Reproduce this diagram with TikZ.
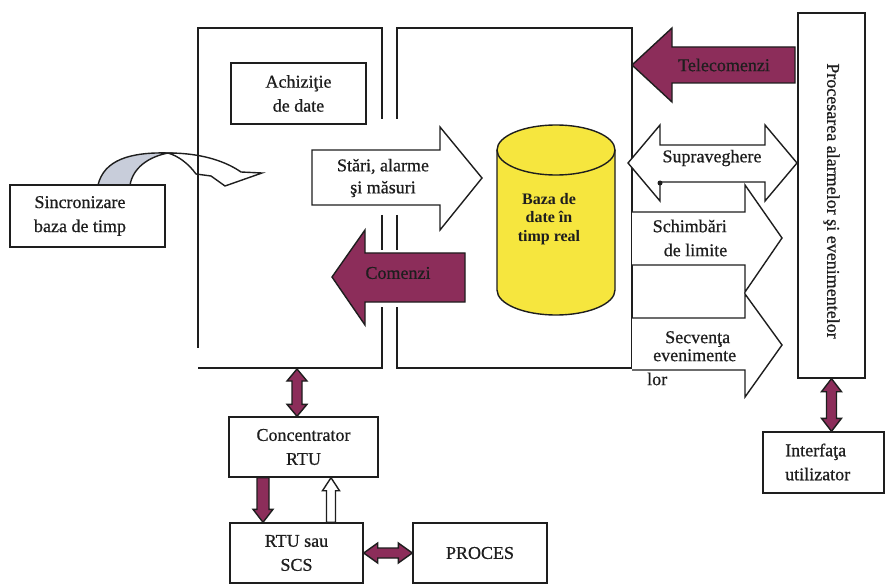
\documentclass[tikz,border=0pt]{standalone}
\usepackage{fontspec}
\setmainfont{Liberation Serif}
\newfontfamily\diagfamily[FakeBold=0.7]{Liberation Serif}
\usetikzlibrary{calc}

\definecolor{plum}{RGB}{140,45,90}
\definecolor{dbyellow}{RGB}{246,230,62}
\definecolor{curvegray}{RGB}{200,205,218}
\definecolor{ink}{RGB}{30,30,30}

\newcommand\diagfont{\diagfamily\fontsize{18pt}{24pt}\selectfont}

% single block arrow: style, from, to, shaft half width, head half width, head length
\newcommand\singleblock[6]{%
  \path ($(#3)!#6!(#2)$) coordinate (bhB);
  \filldraw[#1] ($(#2)!#4!90:(#3)$) -- ($(bhB)!#4!90:(#3)$) -- ($(bhB)!#5!90:(#3)$)
    -- (#3) -- ($(bhB)!#5!-90:(#3)$) -- ($(bhB)!#4!-90:(#3)$) -- ($(#2)!#4!-90:(#3)$) -- cycle;}
% double block arrow: same arguments
\newcommand\doubleblock[6]{%
  \path ($(#2)!#6!(#3)$) coordinate (bhA) ($(#3)!#6!(#2)$) coordinate (bhB);
  \filldraw[#1] (#2) -- ($(bhA)!#5!90:(#3)$) -- ($(bhA)!#4!90:(#3)$) -- ($(bhB)!#4!90:(#3)$)
    -- ($(bhB)!#5!90:(#3)$) -- (#3) -- ($(bhB)!#5!-90:(#3)$) -- ($(bhB)!#4!-90:(#3)$)
    -- ($(bhA)!#4!-90:(#3)$) -- ($(bhA)!#5!-90:(#3)$) -- cycle;}

\tikzset{
  box/.style={draw=ink, line width=1.4pt, fill=white, inner sep=0pt, align=center,
    font=\diagfont, text=ink},
  lbl/.style={inner sep=0pt, align=center, font=\diagfont, text=ink},
  frame/.style={draw=ink, line width=1.4pt},
  block/.style={draw=ink, line width=1.4pt, line join=miter},
  plumblock/.style={block, fill=plum},
  whiteblock/.style={block, fill=white},
}

\begin{document}
\begin{tikzpicture}[x=1pt, y=-1pt]
\useasboundingbox (0,0) rectangle (888,585);
\fill[white] (0,0) rectangle (888,585);

% curved synchronisation arrow (shaded back, white front)
\filldraw[frame, fill=curvegray] (98,185) .. controls (104,160) and (130,152) .. (168,153)
  .. controls (148,157) and (133,168) .. (130,185) -- cycle;
\filldraw[frame, fill=white] (168,153) .. controls (205,153) and (228,163) .. (241,172)
  -- (262,173) -- (225,186) -- (211,176) -- (196,174)
  .. controls (188,163) and (178,156) .. (168,153) -- cycle;

% acquisition frame (left) and real-time frame (right)
\draw[frame] (382,119) -- (382,28) -- (198,28) -- (198,348);
\draw[frame] (382,307) -- (382,368) -- (198,368);
\draw[frame] (382,215) -- (382,250);
\draw[frame] (397,119) -- (397,28) -- (632,28) -- (632,368) -- (397,368) -- (397,307);
\draw[frame] (397,215) -- (397,250);

% boxes
\node[box, minimum width=155pt, minimum height=62pt] (sinc) at (87.5,216)
  {Sincronizare\hspace*{15pt}\\baza de timp\hspace*{15pt}};
\node[box, minimum width=135pt, minimum height=61pt] (achiz) at (298.5,93.5)
  {Achiziţie\\de date};
\node[box, minimum width=67pt, minimum height=365pt] (proc) at (831.5,195.5) {};
\node[lbl, rotate=-90] (proctxt) at (831.5,201) {Procesarea alarmelor şi evenimentelor};
\node[box, minimum width=149pt, minimum height=60pt] (conc) at (303.5,447)
  {Concentrator\\RTU};
\node[box, minimum width=133pt, minimum height=60pt] (rtu) at (296.5,553)
  {RTU sau\\SCS};
\node[box, minimum width=134pt, minimum height=60pt] (proces) at (480,553) {PROCES};
\node[box, minimum width=121pt, minimum height=61pt] (interf) at (823.5,462.5) {};
\node[lbl, anchor=west, align=left] (interftxt) at (785,462) {Interfaţa\\utilizator};

% states, alarms and measurements
\filldraw[whiteblock] (312,150) -- (440,150) -- (440,127) -- (482,178) -- (440,230)
  -- (440,205) -- (312,205) -- cycle;
\node[lbl, font=\diagfamily\fontsize{18pt}{22pt}\selectfont] (stari) at (383,178)
  {Stări, alarme\\şi măsuri};

% commands
\filldraw[plumblock] (465,253) -- (365,253) -- (365,230) -- (332,277) -- (365,325)
  -- (365,302) -- (465,302) -- cycle;
\node[lbl] (comenzi) at (398,273) {Comenzi};

% real-time database
\filldraw[block, fill=dbyellow] (497,150) -- (497,290)
  arc[start angle=180, end angle=360, x radius=59pt, y radius=25pt]
  -- (615,150) arc[start angle=0, end angle=180, x radius=59pt, y radius=25pt] -- cycle;
\draw[block] (497,150) arc[start angle=180, end angle=360, x radius=59pt, y radius=25pt];
\node[lbl, font=\bfseries\fontsize{16pt}{18.5pt}\selectfont] (db) at (549,219)
  {Baza de\\date în\\timp real};

% remote commands
\filldraw[plumblock] (795,47) -- (672,47) -- (672,28) -- (632,65) -- (672,102)
  -- (672,83) -- (795,83) -- cycle;
\node[lbl] (telecom) at (724,65) {Telecomenzi};

% supervision
\filldraw[whiteblock] (628,163) -- (660,125) -- (660,145) -- (765,145) -- (765,125)
  -- (797,163) -- (765,201) -- (765,182) -- (660,182) -- (660,201) -- cycle;
\node[lbl] (suprav) at (712,158) {Supraveghere};
\fill[ink] (660,183) circle[radius=2.5pt];

% limit changes
\filldraw[whiteblock] (632,212) -- (745,212) -- (745,185) -- (782,238) -- (745,292)
  -- (745,265) -- (632,265);
\node[lbl, align=left] (limite) at (690,238) {Schimbări\\\hspace*{11pt}de limite};

% event sequence
\filldraw[whiteblock] (632,318) -- (745,318) -- (745,294) -- (782,345) -- (745,397)
  -- (745,370) -- (632,370);
\node[lbl, align=left, anchor=north west, font=\diagfamily\fontsize{18pt}{18pt}\selectfont]
  (secv) at (647,331) {\hspace*{18pt}Secvenţa\\\hspace*{6pt}evenimente\\[6pt]lor};

% small connectors
\coordinate (busx) at (297,369);
\coordinate (downx) at (263,0);
\coordinate (upx) at (331,0);
\coordinate (c1) at (conc.north -| busx);
\doubleblock{plumblock}{busx}{c1}{5pt}{10pt}{12pt}
\coordinate (d1) at (conc.south -| downx);
\coordinate (d2) at (rtu.north -| downx);
\singleblock{plumblock}{d1}{d2}{6pt}{10pt}{13pt}
\coordinate (u1) at (rtu.north -| upx);
\coordinate (u2) at (conc.south -| upx);
\singleblock{whiteblock}{u1}{u2}{4.5pt}{8.5pt}{13pt}
\doubleblock{plumblock}{rtu.east}{proces.west}{5pt}{10pt}{14pt}
\coordinate (i1) at (interf.north -| proc.south);
\doubleblock{plumblock}{proc.south}{i1}{5pt}{10pt}{13pt}
\end{tikzpicture}
\end{document}
